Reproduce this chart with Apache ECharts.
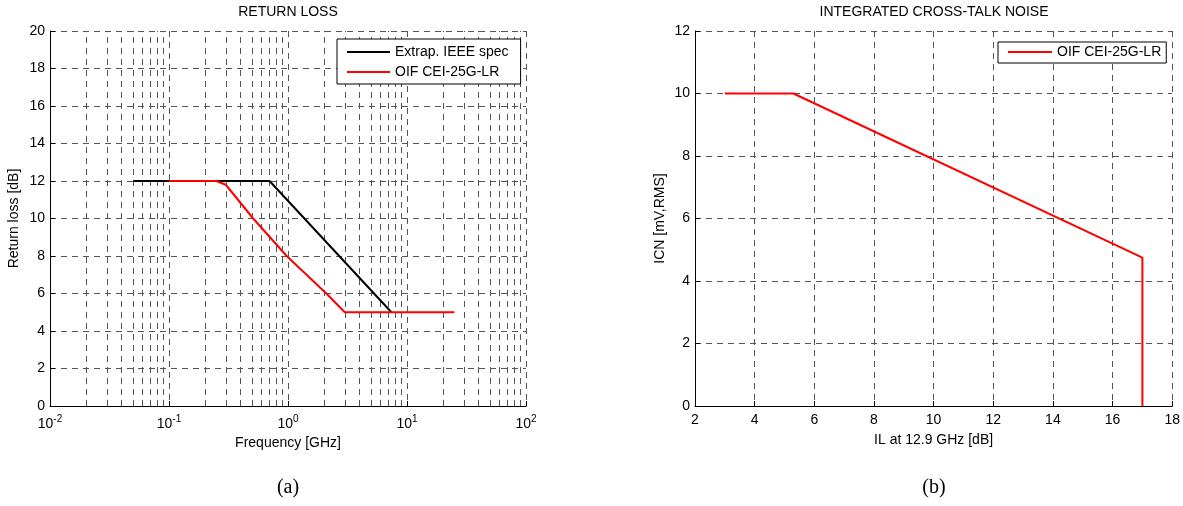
<!DOCTYPE html>
<html>
<head>
<meta charset="utf-8">
<script src="https://cdn.jsdelivr.net/npm/echarts@6/dist/echarts.min.js"></script>
<style>
  html, body { margin: 0; padding: 0; background: #fff; }
  #chart { width: 1183px; height: 506px; }
</style>
</head>
<body>
<div id="chart"></div>
<script>
// Return loss masks: frequency [GHz] and return loss [dB]
const ieeeFreq = [0.05, 0.7, 7.4];
const ieeeRL   = [12, 12, 5];
const oifFreq  = [0.1, 0.25, 0.3, 0.51, 0.975, 2.1, 3, 25];
const oifRL    = [12, 12, 11.8, 10, 8, 6, 5, 5];

// Integrated cross-talk noise limit vs. insertion loss at 12.9 GHz
const ilDb  = [3, 5.3, 17, 17];
const icnMv = [10, 10, 4.75, 0];

// Frequency axis: decades and the minor steps drawn as grid lines inside each decade
const freqDecades = [0.01, 0.1, 1, 10, 100];
const minorSteps  = [2, 3, 4, 5, 6, 7, 8, 9];

const seriesNames = ['Extrap. IEEE spec', 'OIF CEI-25G-LR'];
const titles = ['RETURN LOSS', 'INTEGRATED CROSS-TALK NOISE'];
const panelTags = ['(a)', '(b)'];

const FONT = 'Liberation Sans, Arial, Helvetica, sans-serif';
const SERIF = 'Liberation Serif, Times New Roman, serif';
const FS = 14;
const GRID_LINE = { type: [6, 5], color: '#555', width: 1 };

const zip = (xs, ys) => xs.map((x, i) => [x, ys[i]]);

const minorLines = [];
freqDecades.slice(0, -1).forEach(d => {
  minorSteps.forEach(m => minorLines.push({ xAxis: +(d * m).toPrecision(3) }));
});

const tickText = { color: '#000', fontSize: FS, fontFamily: FONT };
const nameText = { color: '#000', fontSize: FS, fontFamily: FONT };
const legendText = { color: '#000', fontSize: FS, fontFamily: FONT };

function baseAxis(extra) {
  return Object.assign({
    axisLine: { show: true, lineStyle: { color: '#000', width: 1 } },
    axisTick: { show: true, inside: true, length: 5, lineStyle: { color: '#000' } },
    splitLine: { show: true, lineStyle: GRID_LINE },
    nameLocation: 'middle',
    nameTextStyle: nameText
  }, extra);
}

function textMark(text, x, y, size, family) {
  return {
    type: 'text', x: x, y: y,
    style: { text: text, align: 'center', verticalAlign: 'middle', fontSize: size, fontFamily: family, fill: '#000' }
  };
}

const chart = echarts.init(document.getElementById('chart'), null, { renderer: 'canvas' });

chart.setOption({
  animation: false,
  backgroundColor: '#fff',
  grid: [
    { left: 50, top: 31, width: 476, height: 375 },
    { left: 695, top: 31, width: 478, height: 375 }
  ],
  xAxis: [
    baseAxis({
      type: 'log', logBase: 10, gridIndex: 0,
      min: freqDecades[0], max: freqDecades[freqDecades.length - 1], splitNumber: 4,
      name: 'Frequency [GHz]', nameGap: 28,
      axisLabel: {
        margin: 8,
        formatter: v => '{b|10}{s|' + Math.round(Math.log10(v)) + '}',
        rich: {
          b: { fontSize: FS, fontFamily: FONT, color: '#000', verticalAlign: 'bottom' },
          s: { fontSize: 10, fontFamily: FONT, color: '#000', verticalAlign: 'bottom', padding: [0, 0, 7, 0] }
        }
      }
    }),
    baseAxis({
      type: 'value', gridIndex: 1, min: 2, max: 18, interval: 2,
      name: 'IL at 12.9 GHz [dB]', nameGap: 27,
      axisLabel: Object.assign({ margin: 7 }, tickText)
    })
  ],
  yAxis: [
    baseAxis({
      type: 'value', gridIndex: 0, min: 0, max: 20, interval: 2,
      name: 'Return loss [dB]', nameGap: 29,
      axisLabel: Object.assign({ margin: 5 }, tickText)
    }),
    baseAxis({
      type: 'value', gridIndex: 1, min: 0, max: 12, interval: 2,
      name: 'ICN [mV,RMS]', nameGap: 28,
      axisLabel: Object.assign({ margin: 5 }, tickText)
    })
  ],
  legend: [
    {
      data: seriesNames,
      orient: 'vertical', left: 337, top: 39, z: 20,
      icon: 'rect', itemWidth: 43, itemHeight: 2, itemGap: 6,
      padding: [6, 12, 5, 10],
      borderColor: '#000', borderWidth: 1, borderRadius: 0, backgroundColor: '#fff',
      textStyle: legendText,
      selectedMode: false
    },
    {
      data: [seriesNames[1]],
      orient: 'vertical', left: 998, top: 42, z: 20,
      icon: 'rect', itemWidth: 44, itemHeight: 2,
      padding: [3, 5, 4, 10],
      borderColor: '#000', borderWidth: 1, borderRadius: 0, backgroundColor: '#fff',
      textStyle: legendText,
      selectedMode: false
    }
  ],
  graphic: [
    textMark(titles[0], 288, 12, FS, FONT),
    textMark(titles[1], 934, 12, FS, FONT),
    textMark(panelTags[0], 288, 488, 20, SERIF),
    textMark(panelTags[1], 934, 488, 20, SERIF)
  ],
  series: [
    {
      name: 'minor-grid', type: 'line', xAxisIndex: 0, yAxisIndex: 0, data: [], z: 1, silent: true,
      markLine: {
        z: 1, silent: true, symbol: ['none', 'none'], animation: false,
        label: { show: false },
        lineStyle: GRID_LINE,
        emphasis: { disabled: true },
        data: minorLines
      }
    },
    {
      name: seriesNames[0], type: 'line', xAxisIndex: 0, yAxisIndex: 0,
      data: zip(ieeeFreq, ieeeRL), symbol: 'none', z: 3,
      lineStyle: { color: '#000', width: 2 }, itemStyle: { color: '#000' }
    },
    {
      name: seriesNames[1], type: 'line', xAxisIndex: 0, yAxisIndex: 0,
      data: zip(oifFreq, oifRL), symbol: 'none', z: 4,
      lineStyle: { color: '#ff0000', width: 2 }, itemStyle: { color: '#ff0000' }
    },
    {
      name: seriesNames[1], type: 'line', xAxisIndex: 1, yAxisIndex: 1,
      data: zip(ilDb, icnMv), symbol: 'none', z: 4,
      lineStyle: { color: '#ff0000', width: 2 }, itemStyle: { color: '#ff0000' }
    }
  ]
});
</script>
</body>
</html>
